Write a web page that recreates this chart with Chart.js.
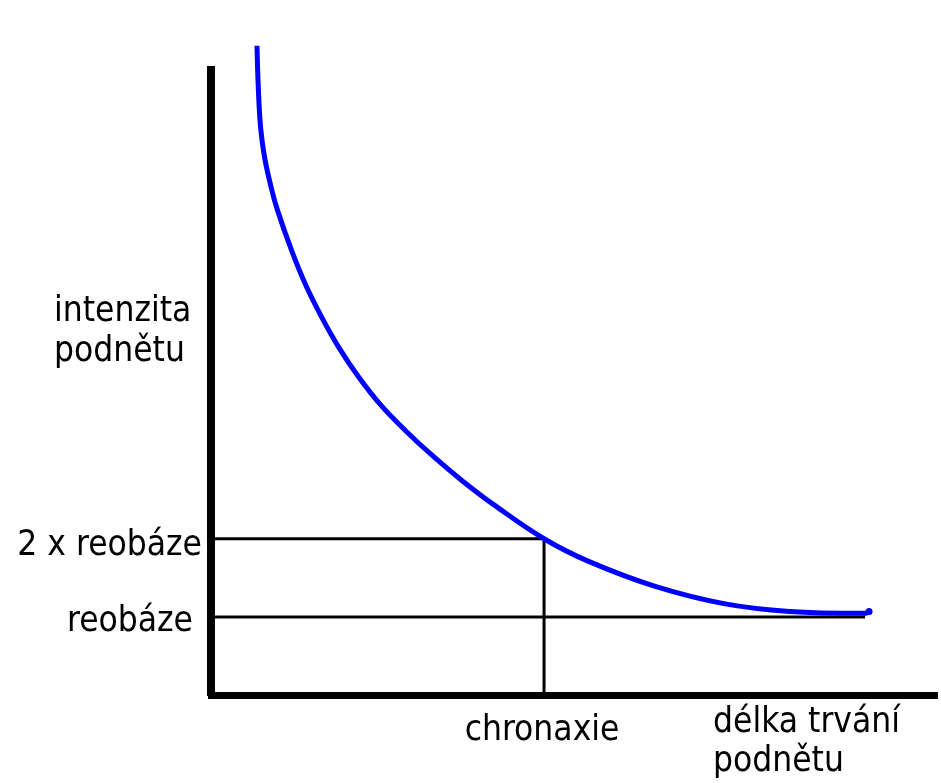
<!DOCTYPE html>
<html>
<head>
<meta charset="utf-8">
<script src="https://cdn.jsdelivr.net/npm/chart.js@4/dist/chart.umd.min.js"></script>
<style>
  body { margin: 0; background: #fff; }
  #wrap { width: 941px; height: 783px; }
</style>
</head>
<body>
<div id="wrap"><canvas id="sdChart" width="941" height="783"></canvas></div>
<script>
// strength-duration curve, values
const durations = [0.138, 0.142, 0.149, 0.161, 0.181, 0.200, 0.242, 0.284, 0.333, 0.385, 0.445, 0.510, 0.585, 0.666, 0.755, 0.851, 1.0, 1.134, 1.334, 1.540, 1.737, 1.967, 1.976];
const intensities = [8.31, 7.78, 7.26, 6.88, 6.49, 6.20, 5.69, 5.25, 4.83, 4.44, 4.06, 3.71, 3.38, 3.06, 2.74, 2.43, 2.0, 1.71, 1.39, 1.17, 1.07, 1.045, 1.07];

const rheobase = 1;
const chronaxie = 1;
const rheobaseEnd = 1.964;

const yLabels = ['2 x reobáze', 'reobáze'];
const yTitle = ['intenzita', 'podnětu'];
const xLabel = 'chronaxie';
const xTitle = ['délka trvání', 'podnětu'];

const FONT = '35px "DejaVu Sans Condensed", "Liberation Sans", sans-serif';

const curve = durations.map((t, i) => ({ x: t, y: intensities[i] }));

const labelsPlugin = {
  id: 'labels',
  afterDraw(chart) {
    const { ctx, scales: { x, y } } = chart;
    ctx.save();
    ctx.font = FONT;
    ctx.fillStyle = '#000';
    ctx.textBaseline = 'alphabetic';

    ctx.textAlign = 'left';
    ctx.fillText(yTitle[0], 54, 321);
    ctx.fillText(yTitle[1], 54, 361);

    ctx.textAlign = 'right';
    ctx.fillText(yLabels[0], 202, y.getPixelForValue(2 * rheobase) + 16);
    ctx.fillText(yLabels[1], 193, y.getPixelForValue(rheobase) + 14);

    ctx.textAlign = 'center';
    ctx.fillText(xLabel, x.getPixelForValue(chronaxie) - 2, 740);

    ctx.textAlign = 'left';
    ctx.fillText(xTitle[0], 713, 732);
    ctx.fillText(xTitle[1], 713, 771);
    ctx.restore();
  }
};

const lineStyle = { borderColor: '#000', borderWidth: 3, pointRadius: 0, tension: 0, fill: false };

new Chart(document.getElementById('sdChart'), {
  type: 'line',
  data: {
    datasets: [
      {
        data: curve,
        borderColor: '#0000ff',
        backgroundColor: '#0000ff',
        borderWidth: 5,
        tension: 0.4,
        pointRadius: curve.map((_, i) => (i === curve.length - 1 ? 3.5 : 0)),
        pointBorderWidth: 0,
        clip: false,
      },
      { ...lineStyle, data: [{ x: 0, y: 2 * rheobase }, { x: chronaxie, y: 2 * rheobase }] },
      { ...lineStyle, data: [{ x: chronaxie, y: 2 * rheobase }, { x: chronaxie, y: 0 }] },
      { ...lineStyle, data: [{ x: 0, y: rheobase }, { x: rheobaseEnd, y: rheobase }] },
    ],
  },
  options: {
    responsive: false,
    animation: false,
    devicePixelRatio: 1,
    layout: { padding: { left: 211, top: 70, right: 0, bottom: 88 } },
    plugins: { legend: { display: false }, tooltip: { enabled: false } },
    scales: {
      x: {
        type: 'linear', min: 0, max: 2.18,
        grid: { display: false, drawTicks: false },
        ticks: { display: false },
        border: { color: '#000', width: 7 },
        afterFit: s => { s.height = 0; },
      },
      y: {
        type: 'linear', min: 0, max: 8,
        grid: { display: false, drawTicks: false },
        ticks: { display: false },
        border: { color: '#000', width: 8 },
        afterFit: s => { s.width = 0; },
      },
    },
  },
  plugins: [labelsPlugin],
});
</script>
</body>
</html>
